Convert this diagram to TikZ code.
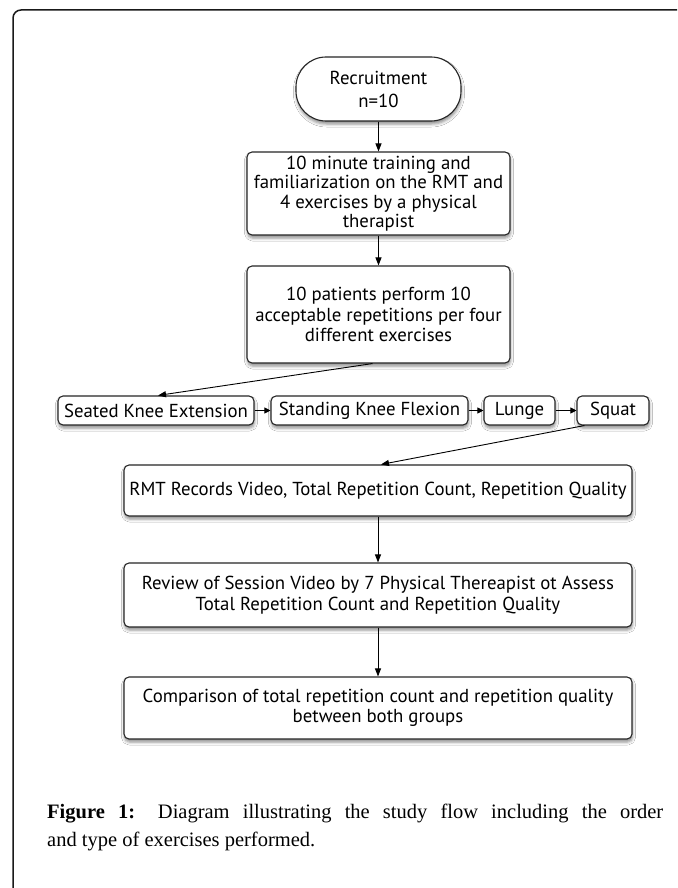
\documentclass[tikz,border=0pt]{standalone}
\usepackage{fontspec}
\setmainfont{Liberation Serif}
\newfontfamily\diagfont{PT Sans}
\usetikzlibrary{arrows.meta,shadows.blur}
\tikzset{
  box/.style={draw=black!85, line width=1.1pt, fill=white, rounded corners=5pt,
    align=center, inner sep=0pt, font=\diagfont\fontsize{18.8}{19.5}\selectfont,
    blur shadow={shadow xshift=0.5pt, shadow yshift=-3pt, shadow blur radius=3pt, shadow opacity=45}},
  arr/.style={draw=black, line width=0.9pt, -{Triangle[length=8pt,width=6pt]}},
  sarr/.style={draw=black, line width=0.9pt, -{Triangle[length=6pt,width=6pt]}},
  frame/.style={draw=black!90, line width=1.5pt, rounded corners=8pt}
}
\begin{document}
\begin{tikzpicture}[x=1pt,y=-1pt]
\useasboundingbox (0,0) rectangle (677,888);
\fill[white] (0,0) rectangle (677,888);
\draw[frame] (13,888) -- (13,10) -- (677,10);

\node[box, rounded corners=30pt, minimum width=165pt, minimum height=64pt, font=\diagfont\fontsize{18.8}{23}\selectfont] (rec) at (378.5,89) {Recruitment\\n=10};
\node[box, minimum width=263pt, minimum height=83pt] (b2) at (378.5,193.5) {10 minute training and\\familiarization on the RMT and\\4 exercises by a physical\\therapist};
\node[box, minimum width=263pt, minimum height=97pt, font=\diagfont\fontsize{18.8}{20.5}\selectfont] (b3) at (378.5,314.5) {10 patients perform 10\\acceptable repetitions per four\\different exercises};

\node[box, minimum width=196pt, minimum height=29pt] (s1) at (156,410.5) {Seated Knee Extension};
\node[box, minimum width=197pt, minimum height=29pt] (s2) at (369.5,410.5) {Standing Knee Flexion};
\node[box, minimum width=71pt, minimum height=29pt] (lu) at (519.5,410.5) {Lunge};
\node[box, minimum width=72pt, minimum height=29pt] (sq) at (613,410.5) {Squat};

\node[box, minimum width=508pt, minimum height=51pt] (rmt) at (378,490.5) {RMT Records Video, Total Repetition Count, Repetition Quality};
\node[box, minimum width=508pt, minimum height=64pt, font=\diagfont\fontsize{18.8}{21}\selectfont] (rev) at (378,595) {Review of Session Video by 7 Physical Thereapist ot Assess\\Total Repetition Count and Repetition Quality};
\node[box, minimum width=508pt, minimum height=62pt] (cmp) at (378,708) {Comparison of total repetition count and repetition quality\\between both groups};

\draw[arr] (rec.south) -- (b2.north);
\draw[arr] (b2.south) -- (b3.north);
\draw[arr] ([xshift=-6pt]b3.south) -- ([xshift=2pt]s1.north);
\draw[sarr] (s1.east) -- (s2.west);
\draw[sarr] (s2.east) -- (lu.west);
\draw[sarr] (lu.east) -- (sq.west);
\draw[arr] ([xshift=8pt]sq.south west) -- ([xshift=3pt]rmt.north);
\draw[arr] (rmt.south) -- (rev.north);
\draw[arr] (rev.south) -- (cmp.north);

\node[anchor=base west, text width=616pt, align=justify, inner sep=0pt,
  font=\fontsize{20.5}{28}\selectfont] (cap) at (47,818)
  {\textbf{Figure 1:} Diagram illustrating the study flow including the order\linebreak and type of exercises performed.};
\end{tikzpicture}
\end{document}
